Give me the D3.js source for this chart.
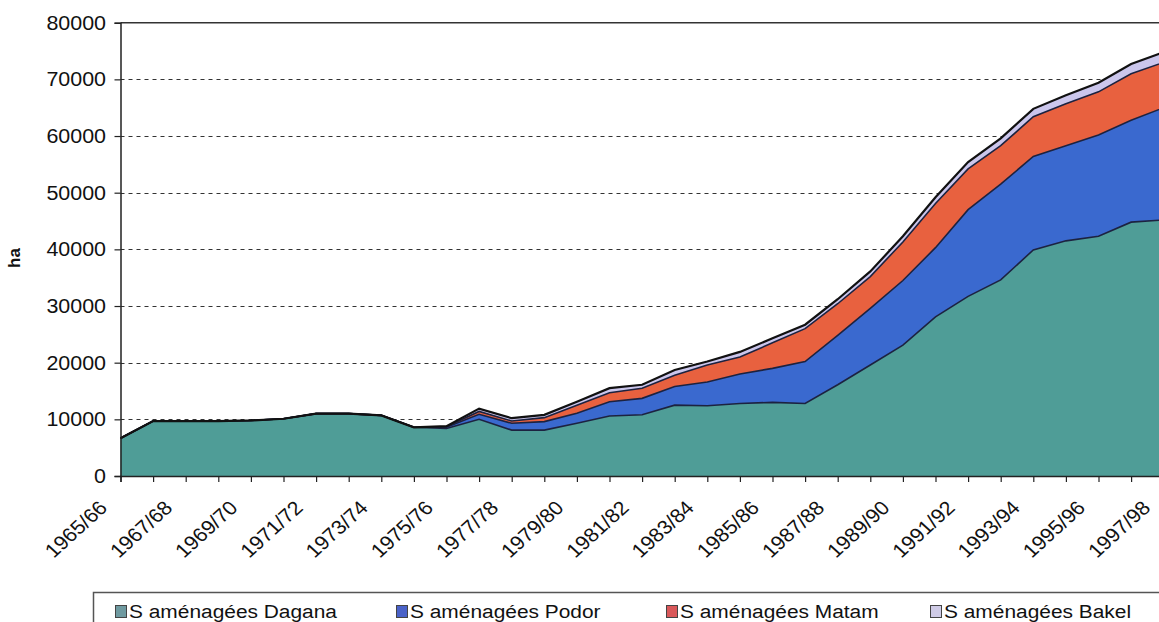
<!DOCTYPE html>
<html><head><meta charset="utf-8">
<script src="https://cdn.jsdelivr.net/npm/d3@7"></script>
<style>
body{margin:0;background:#fff}
svg{display:block}
text{font-family:"Liberation Sans",Arial,sans-serif;fill:#111}
</style>
</head><body>
<svg id="c" width="1159" height="622"></svg>
<script>
const categories = ["1965/66","1966/67","1967/68","1968/69","1969/70","1970/71","1971/72","1972/73","1973/74","1974/75","1975/76","1976/77","1977/78","1978/79","1979/80","1980/81","1981/82","1982/83","1983/84","1984/85","1985/86","1986/87","1987/88","1988/89","1989/90","1990/91","1991/92","1992/93","1993/94","1994/95","1995/96","1996/97","1997/98"];
const dagana = [6650,9700,9700,9700,9800,10100,11000,11000,10700,8600,8400,10000,8100,8100,9300,10600,10800,12500,12400,12800,13000,12800,16100,19600,23100,28100,31700,34600,39900,41500,42300,44800,45200];
const podor  = [0,0,0,0,0,0,0,0,0,0,200,900,1200,1500,1770,2500,2900,3300,4200,5200,6000,7400,8700,10000,11400,12200,15300,16900,16500,16800,17900,18000,19800];
const matam  = [0,0,0,0,0,0,0,0,0,0,100,500,400,700,1430,1600,1800,2000,3000,3000,4500,5800,5600,5600,6800,7800,7200,6800,7000,7400,7600,8200,8000];
const bakel  = [0,0,0,0,0,0,0,0,0,0,100,500,500,500,600,800,600,900,600,900,800,700,800,900,1000,1100,1200,1300,1400,1500,1600,1700,1800];
const seriesNames = ["S aménagées Dagana","S aménagées Podor","S aménagées Matam","S aménagées Bakel"];
const seriesColors = ["#4f9d97","#3a69cf","#e8613f","#cbc6ec"];
const legendSwatch = ["#6f9aa0","#4a62c8","#d9585a","#cfcbe6"];
const yTicks = [0,10000,20000,30000,40000,50000,60000,70000,80000];
const yLabel = "ha";

const svg = d3.select("#c");
const x = d3.scalePoint().domain(categories).range([120.5, 120.5 + 32*32.6]);
const y = d3.scaleLinear().domain([0, 80000]).range([476, 22.7]);

const rows = categories.map((c,i)=>({cat:c, d:dagana[i], p:podor[i], m:matam[i], b:bakel[i]}));
const keys = ["d","p","m","b"];
const stacked = d3.stack().keys(keys)(rows);

// gridlines
svg.append("g").selectAll("line").data(yTicks.filter(v=>v>0 && v<80000)).join("line")
  .attr("x1",120.5).attr("x2",1159).attr("y1",d=>Math.round(y(d))+0.5).attr("y2",d=>Math.round(y(d))+0.5)
  .attr("stroke","#333").attr("stroke-width",1.2).attr("stroke-dasharray","4,4");
// top border
svg.append("line").attr("x1",120.5).attr("x2",1159).attr("y1",y(80000)).attr("y2",y(80000))
  .attr("stroke","#333").attr("stroke-width",1.5);

// areas
const area = d3.area().x(d=>x(d.data.cat)).y0(d=>y(d[0])).y1(d=>y(d[1]));
const line = d3.line().x(d=>x(d.data.cat)).y(d=>y(d[1]));
svg.append("g").selectAll("path").data(stacked).join("path")
  .attr("d",area).attr("fill",(d,i)=>seriesColors[i]);
svg.append("g").selectAll("path").data(stacked).join("path")
  .attr("d",line).attr("fill","none").attr("stroke",(d,i)=>i===3?"#111":"#1c2240")
  .attr("stroke-width",(d,i)=>i===3?2.2:1.6);

// y axis
const yAxis = svg.append("g").attr("transform","translate(120.5,0)")
  .call(d3.axisLeft(y).tickValues(yTicks).tickSize(6).tickFormat(""));
yAxis.select(".domain").attr("stroke","#222").attr("stroke-width",1.5);
yAxis.selectAll(".tick line").attr("stroke","#222").attr("stroke-width",1.2);
svg.append("g").selectAll("text").data(yTicks).join("text")
  .attr("transform",d=>`translate(106,${y(d)+7}) scale(1.1,1)`)
  .attr("text-anchor","end").style("font-size","19.5px").text(d=>d);

// x axis
const xAxis = svg.append("g").attr("transform","translate(0,476)")
  .call(d3.axisBottom(x).tickSize(6).tickFormat(""));
xAxis.select(".domain").attr("stroke","#222").attr("stroke-width",1.5);
xAxis.selectAll(".tick line").attr("stroke","#222").attr("stroke-width",1.2);
svg.append("g").selectAll("text").data(categories.filter((c,i)=>i%2===0)).join("text")
  .attr("transform",d=>`translate(${x(d)-12},${509}) scale(1.1,1) rotate(-45)`)
  .attr("text-anchor","end").style("font-size","19.5px").text(d=>d);

// y label
svg.append("text").attr("transform","translate(20,258) rotate(-90)")
  .attr("text-anchor","middle").style("font-size","17px").style("font-weight","bold").text(yLabel);

// legend
svg.append("rect").attr("x",93.5).attr("y",592.5).attr("width",1100).attr("height",60)
  .attr("fill","#fff").attr("stroke","#555").attr("stroke-width",1.5);
const legendX = [115,396,666,930];
const lg = svg.append("g").selectAll("g").data(seriesNames).join("g")
  .attr("transform",(d,i)=>`translate(${legendX[i]},0)`);
lg.append("rect").attr("x",0.5).attr("y",605.5).attr("width",11).attr("height",12)
  .attr("fill",(d,i)=>legendSwatch[i]).attr("stroke","#444").attr("stroke-width",1);
lg.append("text").attr("transform","translate(14,618) scale(1.1,1)")
  .style("font-size","19px").text(d=>d);
</script>
</body></html>
